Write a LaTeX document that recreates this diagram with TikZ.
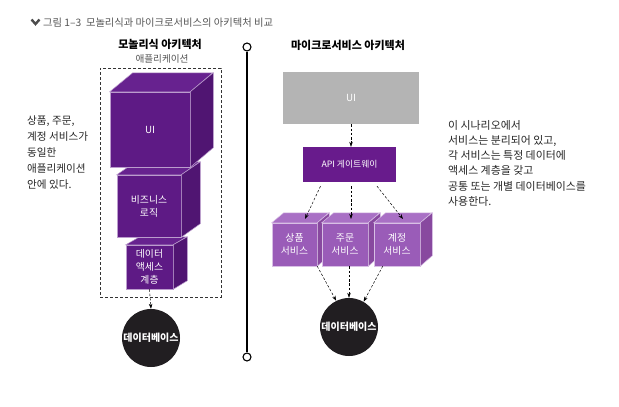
\documentclass[tikz,border=0pt]{standalone}
\usepackage{fontspec}
\setmainfont{Noto Sans CJK KR}
\usetikzlibrary{arrows.meta}
\definecolor{monofront}{HTML}{5E1A85}
\definecolor{monotop}{HTML}{67228F}
\definecolor{monoside}{HTML}{501572}
\definecolor{svcfront}{HTML}{9A5CB8}
\definecolor{svctop}{HTML}{A970C5}
\definecolor{svcside}{HTML}{88499F}
\definecolor{apicol}{HTML}{681B8C}
\definecolor{uigray}{HTML}{B4B4B4}
\definecolor{dbcol}{HTML}{211E21}
\definecolor{captiongray}{HTML}{555555}
\tikzset{
  cubeface/.style={inner sep=0pt, text=white, align=center, font=\fontsize{9.8}{13}\selectfont},
  dasharrow/.style={draw=black, line width=0.5pt, dash pattern=on 2.5pt off 1.8pt, -{Stealth[length=5pt,width=3.5pt]}},
  dbnode/.style={circle, fill=dbcol, minimum size=58pt, inner sep=0pt, text=white, font=\fontsize{10}{12}\selectfont\bfseries},
  bodytext/.style={anchor=north west, inner sep=0pt, align=left, font=\fontsize{10.6}{15.8}\selectfont, text=black!85},
  headtext/.style={inner sep=0pt, font=\fontsize{11}{13}\selectfont\bfseries}
}
\newcommand\mycube[8]{%
  \node[cubeface, fill=#7front, draw=#7top!45!white, line width=0.5pt, minimum width=#3pt, minimum height=#4pt] (#1) at #2 {#8};
  \filldraw[fill=#7top, draw=#7top!45!white, line width=0.5pt] (#1.north west) -- ++(#5,-#6) -- ++(#3,0) -- (#1.north east) -- cycle;
  \filldraw[fill=#7side, draw=#7top!45!white, line width=0.5pt] (#1.north east) -- ++(#5,-#6) -- ++(0,#4) -- (#1.south east) -- cycle;
}
\begin{document}
\begin{tikzpicture}[x=1pt,y=-1pt]
\useasboundingbox[fill=white] (0,0) rectangle (619,407);

% caption
\draw[captiongray!90!black, line width=2.4pt] (31.5,19.5) -- (35.5,24) -- (39.5,19.5);
\node[anchor=west, inner sep=0pt, text=captiongray, font=\fontsize{10.3}{12}\selectfont] (caption) at (43,22.5) {그림 1–3\ \ 모놀리식과 마이크로서비스의 아키텍처 비교};

% monolith side
\node[headtext] (monohead) at (160,44) {모놀리식 아키텍처};
\node[inner sep=0pt, text=captiongray, font=\fontsize{9.6}{11}\selectfont] (apphead) at (162,58.5) {애플리케이션};
\node[draw=black!80, line width=0.5pt, dash pattern=on 3pt off 2pt, minimum width=121pt, minimum height=229pt, inner sep=0pt] (appbox) at (160.5,182.5) {};

\mycube{dacube}{(149.5,267)}{47}{44}{14}{8}{mono}{데이터\\액세스\\계층}
\mycube{blcube}{(149,206)}{64}{62}{19}{13}{mono}{비즈니스\\로직}
\mycube{uicube}{(150,129.5)}{80}{75}{23}{19}{mono}{UI}

\node[dbnode] (dbl) at (151,338) {데이터베이스};
\draw[dasharrow] (dacube.south) -- (dbl.north);

\node[bodytext] (lefttext) at (27,116) {상품, 주문,\\계정 서비스가\\동일한\\애플리케이션\\안에 있다.};

% divider
\node[circle, draw=black, line width=1.1pt, fill=white, minimum size=8pt, inner sep=0pt] (topdot) at (247,47) {};
\node[circle, draw=black, line width=1.1pt, fill=white, minimum size=8pt, inner sep=0pt] (botdot) at (247,357) {};
\draw[line width=1.1pt] (topdot) -- (botdot);

% microservices side
\node[headtext] (microhead) at (348,45) {마이크로서비스 아키텍처};
\node[fill=uigray, minimum width=136pt, minimum height=52pt, inner sep=0pt, text=white, font=\fontsize{9.8}{11}\selectfont] (uibox) at (351,98) {UI};
\node[fill=apicol, minimum width=93pt, minimum height=35pt, inner sep=0pt, text=white, font=\fontsize{8.8}{11}\selectfont] (api) at (349.5,164.5) {API 게이트웨이};
\draw[dasharrow] (uibox.south) -- (uibox.south |- api.north);

\mycube{svca}{(294.5,244.5)}{45}{43}{12}{10}{svc}{상품\\서비스}
\mycube{svcb}{(345,244.5)}{46}{43}{12}{10}{svc}{주문\\서비스}
\mycube{svcc}{(397,244.5)}{46}{43}{12}{10}{svc}{계정\\서비스}

\coordinate (ga1) at ([xshift=-29pt,yshift=-4pt]api.south);
\coordinate (ga2) at ([xshift=1.5pt,yshift=-4pt]api.south);
\coordinate (ga3) at ([xshift=27.5pt,yshift=-4pt]api.south);
\coordinate (ea1) at (305,219);
\coordinate (ea2) at (351,219);
\coordinate (ea3) at (403,219);
\draw[dasharrow] (ga1) -- (ea1);
\draw[dasharrow] (ga2) -- (ea2);
\draw[dasharrow] (ga3) -- (ea3);

\node[dbnode] (dbr) at (349,327) {데이터베이스};
\draw[dasharrow] (svca.south east) -- (dbr.116);
\draw[dasharrow] (svcb.south -| dbr.north) -- (dbr.north);
\draw[dasharrow] ([xshift=9pt]svcc.south west) -- (dbr.60);

\node[bodytext, font=\fontsize{10.9}{15.2}\selectfont] (righttext) at (448,120) {이 시나리오에서\\서비스는 분리되어 있고,\\각 서비스는 특정 데이터에\\액세스 계층을 갖고\\공통 또는 개별 데이터베이스를\\사용한다.};
\end{tikzpicture}
\end{document}
